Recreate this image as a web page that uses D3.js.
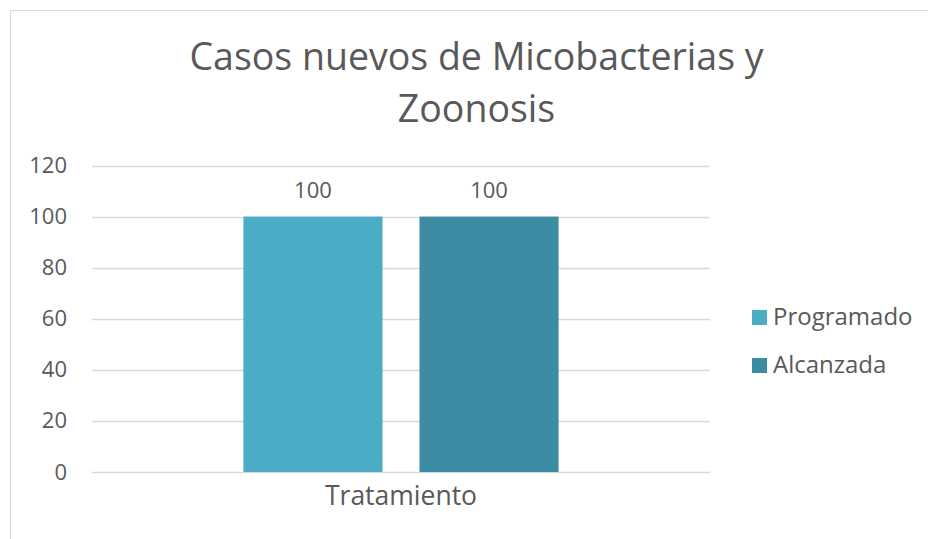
<!DOCTYPE html>
<html>
<head>
<meta charset="utf-8">
<script src="https://cdn.jsdelivr.net/npm/d3@7"></script>
<style>
  body { margin: 0; background: #fff; }
  svg text { font-family: "Open Sans", "Noto Sans", sans-serif; fill: #595959; }
</style>
</head>
<body>
<svg id="chart" width="928" height="539"></svg>
<script>
// données du graphique
const categories = ["Tratamiento"];
const series = ["Programado", "Alcanzada"];
const programado = [100];
const alcanzada = [100];
const yTicks = [0, 20, 40, 60, 80, 100, 120];
const couleurs = ["#4BACC6", "#3C8CA3"];

const svg = d3.select("#chart");

// cadre du graphique
svg.append("rect")
    .attr("x", 10.5).attr("y", 10.5)
    .attr("width", 940).attr("height", 560)
    .attr("fill", "#fff")
    .attr("stroke", "#d9d9d9");

// titre
const titre = svg.append("text")
    .attr("text-anchor", "middle")
    .style("font-size", "37.5px");
titre.append("tspan").attr("x", 476.5).attr("y", 70).text("Casos nuevos de Micobacterias y");
titre.append("tspan").attr("x", 476.5).attr("y", 122).text("Zoonosis");

const margin = { top: 165.5, left: 92, right: 710, bottom: 472 };

const x = d3.scaleBand()
    .domain(categories)
    .range([margin.left, margin.right]);

const x1 = d3.scaleBand()
    .domain(series)
    .range([0, x.bandwidth()])
    .paddingInner(0.21)
    .paddingOuter(0.86);

const y = d3.scaleLinear()
    .domain([0, 120])
    .range([margin.bottom, margin.top]);

// grille horizontale
svg.append("g")
    .selectAll("line")
    .data(yTicks)
    .join("line")
    .attr("x1", margin.left).attr("x2", margin.right)
    .attr("y1", d => Math.round(y(d)) + 0.5)
    .attr("y2", d => Math.round(y(d)) + 0.5)
    .attr("stroke", "#d9d9d9")
    .attr("stroke-width", 1.3);

// axe y
const yAxis = d3.axisLeft(y).tickValues(yTicks).tickSize(0).tickPadding(0);
const gy = svg.append("g")
    .attr("transform", `translate(${margin.left - 25}, 0)`)
    .call(yAxis);
gy.select(".domain").remove();
gy.selectAll("text")
    .attr("fill", "#595959")
    .style("font-size", "22px")
    .style("font-family", "'Open Sans', 'Noto Sans', sans-serif");

// barres
const donnees = categories.map((c, i) => ({
    categorie: c,
    valeurs: [
        { serie: series[0], valeur: programado[i] },
        { serie: series[1], valeur: alcanzada[i] }
    ]
}));

const groupes = svg.append("g")
    .selectAll("g")
    .data(donnees)
    .join("g")
    .attr("transform", d => `translate(${x(d.categorie)}, 0)`);

groupes.selectAll("rect")
    .data(d => d.valeurs)
    .join("rect")
    .attr("x", d => x1(d.serie))
    .attr("y", d => y(d.valeur))
    .attr("width", x1.bandwidth())
    .attr("height", d => y(0) - y(d.valeur))
    .attr("fill", (d, i) => couleurs[i]);

// étiquettes de données
groupes.selectAll("text")
    .data(d => d.valeurs)
    .join("text")
    .attr("x", d => x1(d.serie) + x1.bandwidth() / 2)
    .attr("y", d => y(d.valeur) - 19)
    .attr("text-anchor", "middle")
    .style("font-size", "22px")
    .text(d => d.valeur);

// axe x
const xAxis = d3.axisBottom(x).tickSize(0).tickPadding(0);
const gx = svg.append("g")
    .attr("transform", `translate(0, ${margin.bottom})`)
    .call(xAxis);
gx.select(".domain").remove();
gx.selectAll("text")
    .attr("fill", "#595959")
    .attr("dy", 33)
    .style("font-size", "26.5px")
    .style("font-family", "'Open Sans', 'Noto Sans', sans-serif");

// légende
const legende = svg.append("g")
    .selectAll("g")
    .data(series)
    .join("g")
    .attr("transform", (d, i) => `translate(752, ${310 + i * 48})`);

legende.append("rect")
    .attr("width", 15).attr("height", 15)
    .attr("fill", (d, i) => couleurs[i]);

legende.append("text")
    .attr("x", 21)
    .attr("y", 15)
    .style("font-size", "24px")
    .text(d => d);
</script>
</body>
</html>
